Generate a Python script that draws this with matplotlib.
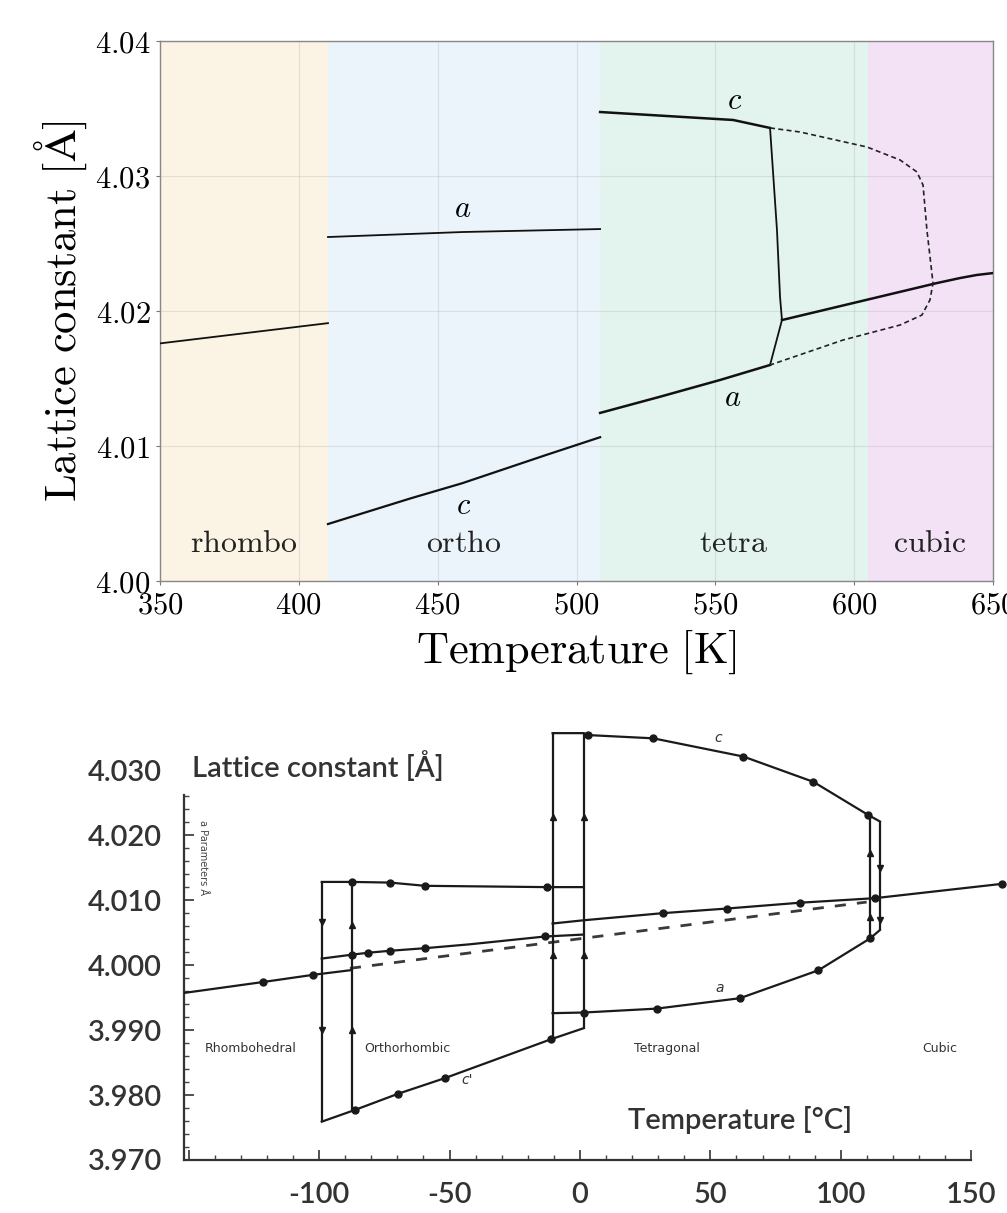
import matplotlib
matplotlib.use('Agg')
import matplotlib.pyplot as plt
import numpy as np
from matplotlib.ticker import FixedLocator

plt.rcParams['mathtext.fontset'] = 'cm'
plt.rcParams['axes.unicode_minus'] = False

# ---------------- top panel: computed lattice constants vs T [K] ----------------
phase_names = ['rhombo', 'ortho', 'tetra', 'cubic']
phase_edges = [350, 410.5, 508.5, 605, 650]
phase_colors = ['#fbf3e4', '#ebf4fb', '#e3f3ee', '#f3e2f6']
phase_label_T = [380, 459.5, 556.7, 627.3]

rh_T = [350, 410.5]
rh_a = [4.0176, 4.0191]
or_a_T = [410.5, 459, 508.5]
or_a = [4.02548, 4.02585, 4.02607]
or_c_T = [410.5, 440.4, 458.8, 489, 508.5]
or_c = [4.00422, 4.00613, 4.00724, 4.00933, 4.01065]
te_c_T = [508.5, 556.4, 569.7]
te_c = [4.03474, 4.03415, 4.03356]
te_a_T = [508.5, 530.1, 551.7, 569.7]
te_a = [4.01245, 4.01365, 4.01489, 4.01600]
jump_T = [569.7, 572.2, 573.3, 574.0, 569.7]
jump_v = [4.03356, 4.02600, 4.02104, 4.01933, 4.01600]
cub_T = [574.0, 629.8, 638.1, 644.2, 650]
cub_a = [4.01933, 4.02207, 4.02244, 4.02267, 4.02281]
# metastable branch (dashed)
dash_T = [569.7, 580.5, 604.6, 616.5, 622.6, 624.8, 626.2, 628.4,
          627.3, 624.4, 616.5, 596, 569.7]
dash_v = [4.03356, 4.03326, 4.03215, 4.03119, 4.03030, 4.02933, 4.02600, 4.02207,
          4.02082, 4.01970, 4.01896, 4.01785, 4.01600]

top_yticks = [4.00, 4.01, 4.02, 4.03, 4.04]
top_xticks = [350, 400, 450, 500, 550, 600, 650]

# ---------------- bottom panel: experiment vs T [C] ----------------
rh_exp_T = [-152, -121.4, -102.3, -88.2]
rh_exp = [3.9957, 3.9974, 3.9985, 3.9992]
rh_ext_T = [-88.2, -12.8, 109.9]
rh_ext = [3.9995, 4.0034, 4.0097]
oa_T = [-99, -87.5, -72.9, -59.4, -12.8, 1.5]
oa = [4.0128, 4.0128, 4.0127, 4.0122, 4.0120, 4.0120]
om_T = [-99, -87.5, -81.2, -72.9, -59.4, -42.2, -13.4, 1.5]
om = [4.0010, 4.0016, 4.0019, 4.0022, 4.0026, 4.0032, 4.0044, 4.0047]
oc_T = [-99, -86.3, -69.7, -51.8, -11.0, 1.5]
oc = [3.9759, 3.9777, 3.9802, 3.9826, 3.9886, 3.9903]
tc_T = [-10.5, 1.5, 3.2, 28.1, 62.6, 89.5, 110.5, 115.0]
tc = [4.0357, 4.0357, 4.0354, 4.0349, 4.0321, 4.0282, 4.0231, 4.0221]
ta_T = [-10.5, 1.5, 29.4, 61.3, 91.4, 111.2, 115.0]
ta = [3.9926, 3.9927, 3.9933, 3.9949, 3.9992, 4.0041, 4.0054]
tm_T = [-10.5, 1.5, 32, 56.2, 84.4, 113.1, 161.7]
tm = [4.0064, 4.0069, 4.0080, 4.0087, 4.0096, 4.0103, 4.0125]

trans_T = [-99, -87.5, -10.5, 1.5, 111.2, 115.0]
trans_top = [4.0128, 4.0128, 4.0357, 4.0357, 4.0231, 4.0221]
trans_bot = [3.9759, 3.9777, 3.9886, 3.9903, 4.0041, 4.0054]
arrow_dn_T = [-99, -99, 115.0, 115.0]
arrow_dn_v = [4.0067, 3.9900, 4.0149, 4.0069]
arrow_up_T = [-87.5, -87.5, -10.5, 1.5, -10.5, 1.5, 111.2, 111.2]
arrow_up_v = [4.0062, 3.9900, 4.0228, 4.0228, 4.0015, 4.0015, 4.0172, 4.0074]

bot_xticks = [-150, -100, -50, 0, 50, 100, 150]
bot_xlabels = ['', '-100', '-50', '0', '50', '100', '150']
bot_yticks = [3.970, 3.980, 3.990, 4.000, 4.010, 4.020, 4.030]
bot_ylabels = ['3.970', '3.980', '3.990', '4.000', '4.010', '4.020', '4.030']

W, H = 1007, 1213
fig = plt.figure(figsize=(W / 100, H / 100), dpi=100)

# ---- top ----
ax = fig.add_axes([160 / W, 1 - 581 / H, 833 / W, 540 / H])
for i in range(4):
    ax.axvspan(phase_edges[i], phase_edges[i + 1], color=phase_colors[i], lw=0, zorder=0)
ax.set_xlim(350, 650)
ax.set_ylim(4.00, 4.04)
ax.set_axisbelow(True)
ax.grid(True, color='#a0a0a0', alpha=0.25, lw=0.8)

lk = dict(color='#111111', lw=1.3, zorder=3)
ax.plot(rh_T, rh_a, **lk)
ax.plot(or_a_T, or_a, **lk)
ax.plot(or_c_T, or_c, color='#111111', lw=1.6, zorder=3)
ax.plot(te_c_T, te_c, color='#111111', lw=1.8, zorder=3)
ax.plot(te_a_T, te_a, color='#111111', lw=1.8, zorder=3)
ax.plot(jump_T, jump_v, **lk)
ax.plot(cub_T, cub_a, color='#111111', lw=1.8, zorder=3)
ax.plot(dash_T, dash_v, color='#222222', lw=1.2, ls=(0, (3, 2)), zorder=3)

ax.text(459, 4.0276, r'$a$', fontsize=22, ha='center', va='center')
ax.text(459.4, 4.0056, r'$c$', fontsize=22, ha='center', va='center')
ax.text(557, 4.0356, r'$c$', fontsize=22, ha='center', va='center')
ax.text(556.4, 4.0136, r'$a$', fontsize=22, ha='center', va='center')
for name, t in zip(phase_names, phase_label_T):
    ax.text(t, 4.0028, r'$\mathrm{%s}$' % name, fontsize=23, ha='center', va='center',
            color='#222222')

ax.set_xticks(top_xticks)
ax.set_xticklabels([r'$%d$' % v for v in top_xticks])
ax.set_yticks(top_yticks)
ax.set_yticklabels([r'$%.2f$' % v for v in top_yticks])
ax.tick_params(labelsize=22, direction='out', length=3, color='#777777', pad=4)
for s in ax.spines.values():
    s.set_color('#888888')
    s.set_linewidth(1.0)
ax.set_xlabel(r'$\mathrm{Temperature\ [K]}$', fontsize=32, labelpad=6)
ax.set_ylabel(r'$\mathrm{Lattice\ constant\ [\AA]}$', fontsize=32, labelpad=4)

# ---- bottom ----
ax2 = fig.add_axes([184 / W, 1 - 1160 / H, (W - 184) / W, 460 / H])
ax2.set_xlim(-151.8, 163.7)
ax2.set_ylim(3.970, 4.0408)
for s in ['top', 'right']:
    ax2.spines[s].set_visible(False)
ax2.spines['left'].set_bounds(3.970, 4.0262)
ax2.spines['bottom'].set_bounds(-151.8, 150)
for s in ['left', 'bottom']:
    ax2.spines[s].set_color('#333333')
    ax2.spines[s].set_linewidth(1.6)

sk = dict(color='#1a1a1a', lw=1.6, zorder=3)
mk = dict(marker='o', ms=5, mfc='#1a1a1a', mec='#1a1a1a')
ax2.plot(rh_exp_T, rh_exp, markevery=[1, 2], **sk, **mk)
ax2.plot(rh_ext_T, rh_ext, color='#3a3a3a', lw=2.0, ls=(0, (4, 4)), zorder=2)
ax2.plot(oa_T, oa, markevery=[1, 2, 3, 4], **sk, **mk)
ax2.plot(om_T, om, markevery=[1, 2, 3, 4, 6], **sk, **mk)
ax2.plot(oc_T, oc, markevery=[1, 2, 3, 4], **sk, **mk)
ax2.plot(tc_T, tc, markevery=[2, 3, 4, 5, 6], **sk, **mk)
ax2.plot(ta_T, ta, markevery=[1, 2, 3, 4, 5], **sk, **mk)
ax2.plot(tm_T, tm, markevery=[2, 3, 4, 5, 6], **sk, **mk)
ax2.vlines(trans_T, trans_bot, trans_top, color='#1a1a1a', lw=1.6, zorder=3)
ax2.plot(arrow_dn_T, arrow_dn_v, ls='none', marker='v', ms=5, color='#1a1a1a', zorder=4)
ax2.plot(arrow_up_T, arrow_up_v, ls='none', marker='^', ms=5, color='#1a1a1a', zorder=4)

ax2.set_xticks(bot_xticks)
ax2.set_xticklabels(bot_xlabels)
ax2.xaxis.set_minor_locator(FixedLocator(np.arange(-140, 150, 10)))
ax2.set_yticks(bot_yticks)
ax2.set_yticklabels(bot_ylabels)
ax2.yaxis.set_minor_locator(FixedLocator(np.arange(3.972, 4.0265, 0.002)))
ax2.tick_params(which='major', direction='in', length=7, width=1.2, color='#333333',
                labelsize=21, labelcolor='#333333')
ax2.tick_params(axis='x', which='major', pad=16)
ax2.tick_params(axis='y', which='major', pad=16)
ax2.tick_params(which='minor', direction='in', length=3.5, width=1.0, color='#444444')
ax2.yaxis.get_major_ticks()[-1].tick1line.set_visible(False)
for lab in ax2.get_xticklabels() + ax2.get_yticklabels():
    lab.set_fontfamily('Lato')
    lab.set_fontweight('semibold')

small = dict(fontsize=9, color='#333333', ha='center', va='center', family='DejaVu Sans')
ax2.text(-126.2, 3.9871, 'Rhombohedral', **small)
ax2.text(-66, 3.9871, 'Orthorhombic', **small)
ax2.text(33.4, 3.9871, 'Tetragonal', **small)
ax2.text(138, 3.9871, 'Cubic', **small)
ax2.text(52.9, 4.0349, 'c', fontsize=10, style='italic', color='#333333', ha='center', va='center')
ax2.text(53.7, 3.9965, 'a', fontsize=10, style='italic', color='#333333', ha='center', va='center')
ax2.text(-43.3, 3.9823, "c'", fontsize=10, style='italic', color='#333333', ha='center', va='center')
ax2.text(-144.5, 4.0165, 'a Parameters Å', fontsize=7, color='#444444', rotation=-90,
         ha='center', va='center')

fig.text(192 / W, 1 - 767 / H, 'Lattice constant [Å]', fontsize=21, family='Lato',
         fontweight='semibold', color='#333333', ha='left', va='center')
fig.text(628 / W, 1 - 1120 / H, 'Temperature [°C]', fontsize=21, family='Lato',
         fontweight='semibold', color='#333333', ha='left', va='center')

fig.savefig('out.png', dpi=100)
